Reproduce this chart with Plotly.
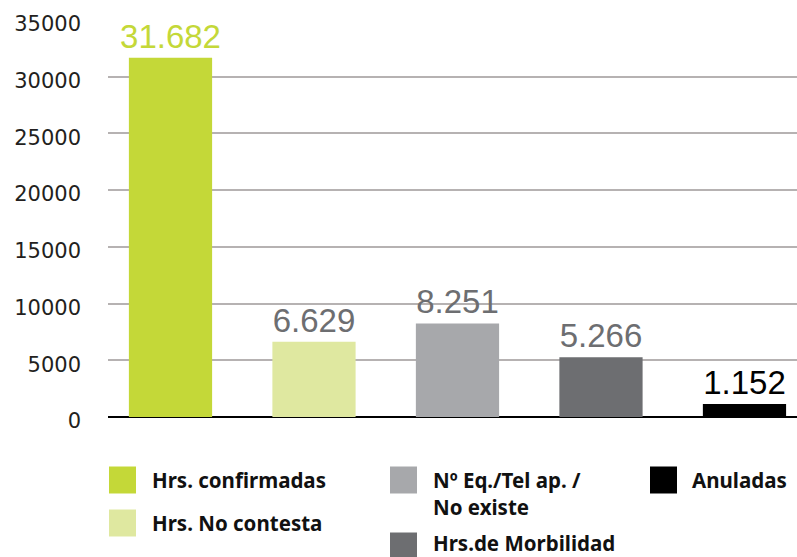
import plotly.graph_objects as go

# Horas por estado
categorias = ["Hrs. confirmadas", "Hrs. No contesta", "Nº Eq./Tel ap. /<br>No existe",
              "Hrs.de Morbilidad", "Anuladas"]
valores = [31682, 6629, 8251, 5266, 1152]
colores_barra = ["#c4d838", "#dfe8a0", "#a7a8ab", "#6d6e71", "#000000"]
colores_texto = ["#c4d838", "#6d6e71", "#6d6e71", "#6d6e71", "#000000"]
ticks_y = [0, 5000, 10000, 15000, 20000, 25000, 30000, 35000]

W, H = 797, 557
L, R, T, B = 108, 0, 20, 140
pw, ph = W - L - R, H - T - B


def px(x):
    return (x - L) / pw


def py(y):
    return (H - B - y) / ph


fig = go.Figure()
fig.add_trace(go.Bar(
    x=list(range(len(valores))),
    y=valores,
    marker=dict(color=colores_barra, line=dict(width=0)),
    texttemplate="%{y:,}",
    textposition="outside",
    constraintext="none",
    cliponaxis=False,
    textfont=dict(family="Liberation Sans, Arial, sans-serif",
                  size=33, color=colores_texto),
    showlegend=False,
    hoverinfo="skip",
))

# Leyenda manual en tres columnas
leyenda = [
    (0, 109, 480, 150),
    (1, 109, 523, 150),
    (2, 390, 480, 431),
    (3, 390, 546, 431),
    (4, 650, 480, 690),
]
for idx, sx, cy, tx in leyenda:
    fig.add_shape(type="rect", xref="paper", yref="paper",
                  x0=px(sx), x1=px(sx + 27), y0=py(cy - 13.5), y1=py(cy + 13.5),
                  fillcolor=colores_barra[idx], line=dict(width=0))
    if "<br>" in categorias[idx]:
        ty = cy + 13
    elif cy > 540:
        ty = cy - 3
    else:
        ty = cy
    fig.add_annotation(xref="paper", yref="paper", x=px(tx), y=py(ty),
                       xanchor="left", yanchor="middle", align="left",
                       text="<b>" + categorias[idx] + "</b>", showarrow=False,
                       font=dict(family="Noto Sans", size=20.5, color="#111111"))

fig.update_layout(
    width=W, height=H,
    margin=dict(l=L, r=R, t=T, b=B),
    paper_bgcolor="white", plot_bgcolor="white",
    separators=",.",
    bargap=0.42,
    xaxis=dict(range=[-0.4355, 4.366], showticklabels=False, showgrid=False,
               zeroline=False, showline=False, ticks=""),
    yaxis=dict(range=[0, 35000], tickvals=ticks_y, ticktext=[str(v) for v in ticks_y],
               showgrid=True, gridcolor="#b6b2b2", gridwidth=2,
               zeroline=True, zerolinecolor="#000000", zerolinewidth=2,
               showline=False, ticks="", ticklabelstandoff=26, ticklabelshift=4,
               tickfont=dict(family="DejaVu Sans", size=21, color="#231f20")),
)

fig.write_html("out.html")
